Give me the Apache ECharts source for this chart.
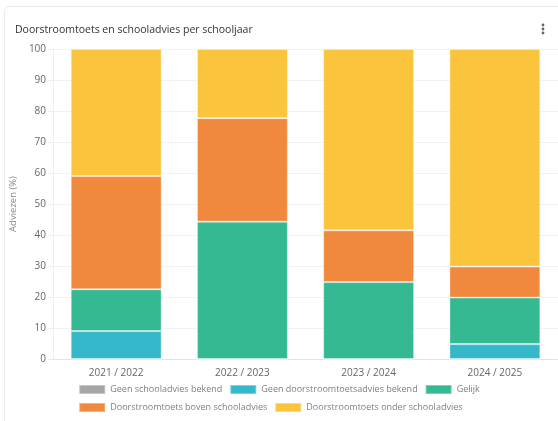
<!DOCTYPE html>
<html>
<head>
<meta charset="utf-8">
<script src="https://cdn.jsdelivr.net/npm/echarts@6/dist/echarts.min.js"></script>
<style>
html,body{margin:0;padding:0;background:#fff;}
#card{position:absolute;left:4px;top:6px;width:560px;height:430px;border:1px solid #ececec;border-radius:6px;box-shadow:0 0 3px rgba(0,0,0,0.05);}
#chart{position:absolute;left:0;top:0;width:558px;height:421px;}
</style>
</head>
<body>
<div id="card"></div>
<div id="chart"></div>
<script>
const categories = ['2021 / 2022', '2022 / 2023', '2023 / 2024', '2024 / 2025'];
const seriesNames = ['Geen schooladvies bekend', 'Geen doorstroomtoetsadvies bekend', 'Gelijk', 'Doorstroomtoets boven schooladvies', 'Doorstroomtoets onder schooladvies'];
const geenSchooladvies = [0, 0, 0, 0];
const geenToetsadvies = [9.0, 0, 0, 4.8];
const gelijk = [13.5, 44.3, 24.8, 15.0];
const boven = [36.5, 33.4, 16.7, 10.0];
const onder = [41.0, 22.3, 58.5, 70.2];
const colors = ['#a6a6a6', '#36b8cb', '#34b993', '#f0893d', '#fac43c'];

const values = [geenSchooladvies, geenToetsadvies, gelijk, boven, onder];
const font = '"Open Sans", sans-serif';

const chart = echarts.init(document.getElementById('chart'));
chart.setOption({
  animation: false,
  textStyle: { fontFamily: font },
  title: {
    text: 'Doorstroomtoets en schooladvies per schooljaar',
    left: 10, top: 20,
    textStyle: { fontSize: 10.5, fontWeight: 'normal', color: '#333', fontFamily: font }
  },
  graphic: [
    { type: 'circle', shape: { cx: 543, cy: 25, r: 1.4 }, style: { fill: '#666' } },
    { type: 'circle', shape: { cx: 543, cy: 29, r: 1.4 }, style: { fill: '#666' } },
    { type: 'circle', shape: { cx: 543, cy: 33, r: 1.4 }, style: { fill: '#666' } }
  ],
  legend: {
    bottom: 3, left: 'center', width: 420,
    itemWidth: 26, itemHeight: 9, itemGap: 7,
    icon: 'rect',
    textStyle: { fontSize: 9, color: '#808080', fontFamily: font },
    data: seriesNames
  },
  grid: { left: 51, right: -2, top: 49, bottom: 62, containLabel: false },
  xAxis: {
    type: 'category', data: categories,
    axisLine: { lineStyle: { color: '#e3e3e3' } },
    axisTick: { show: false },
    axisLabel: { fontSize: 10, color: '#666', margin: 9 }
  },
  yAxis: {
    type: 'value', min: 0, max: 100, interval: 10,
    name: 'Adviezen (%)', nameLocation: 'middle', nameGap: 27,
    nameTextStyle: { fontSize: 9.5, color: '#888' },
    axisLine: { show: true, lineStyle: { color: '#eeeeee' } },
    axisTick: { show: true, length: 5, lineStyle: { color: '#eeeeee' } },
    axisLabel: { fontSize: 10, color: '#666', margin: 7 },
    splitLine: { lineStyle: { color: '#f2f2f2' } }
  },
  series: seriesNames.map((n, i) => ({
    name: n, type: 'bar', stack: 'total', data: values[i],
    barWidth: '72%',
    itemStyle: { color: colors[i], borderColor: 'rgba(255,255,255,0.35)', borderWidth: 1 }
  }))
});
</script>
</body>
</html>
